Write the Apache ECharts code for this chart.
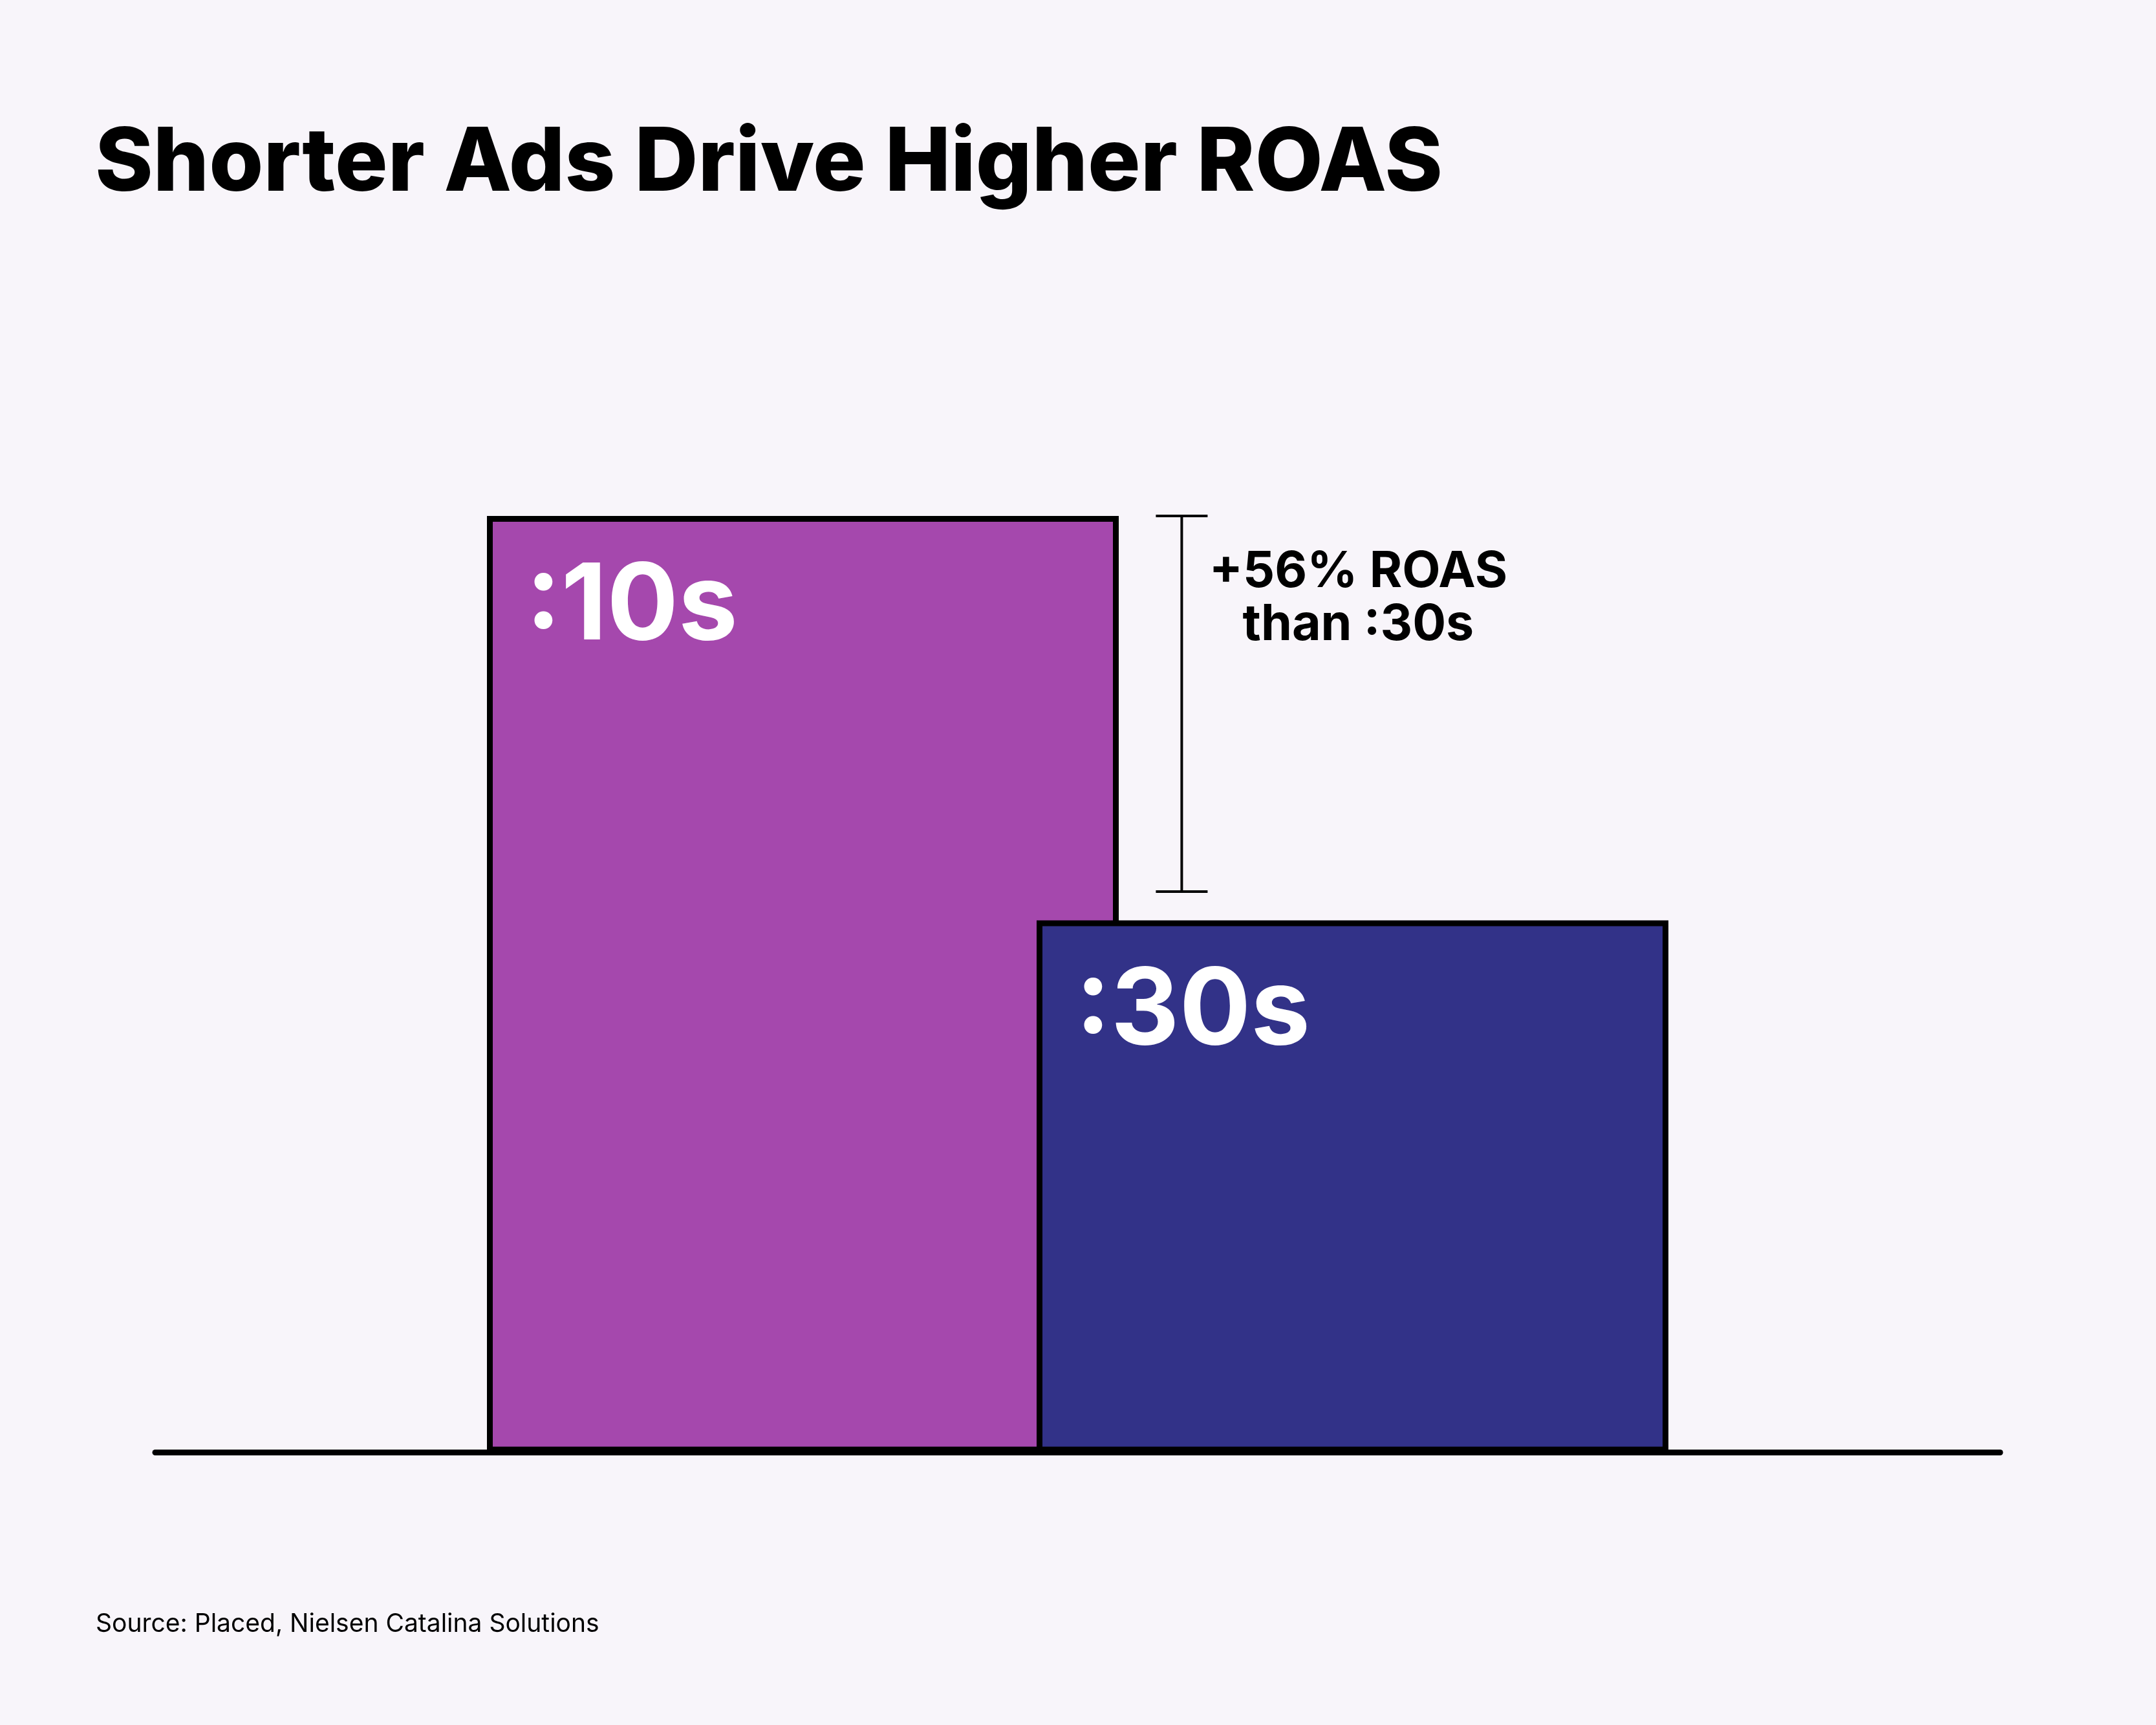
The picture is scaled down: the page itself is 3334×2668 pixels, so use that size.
<!DOCTYPE html>
<html>
<head>
<meta charset="utf-8">
<script src="https://cdn.jsdelivr.net/npm/echarts@6/dist/echarts.min.js"></script>
<style>
html,body{margin:0;padding:0;background:#F8F5FA;}
#chart{width:3334px;height:2668px;}
</style>
</head>
<body>
<div id="chart"></div>
<script>
// ---- data ----
const titleText = 'Shorter Ads Drive Higher ROAS';
const sourceText = 'Source: Placed, Nielsen Catalina Solutions';
const categories = ['ROAS'];
const seriesNames = [':10s', ':30s'];
const values10s = [176];
const values30s = [100];
const bracketX = [55.64];          // position on hidden 0–100 annotation axis
const bracketTop = [176];
const bracketBottom = [105.4];
const annotationText = '+56% ROAS\nthan :30s';

const FONT = 'Inter, "Noto Sans", sans-serif';
const chart = echarts.init(document.getElementById('chart'), null, {renderer: 'canvas'});

const barLabel = {
  show: true,
  position: [60, 60],
  formatter: '{a}',
  color: '#ffffff',
  fontFamily: FONT,
  fontWeight: 'bold',
  fontSize: 164,
  lineHeight: 164
};

chart.setOption({
  backgroundColor: '#F8F5FA',
  animation: false,
  title: [
    {
      text: titleText,
      left: 142, top: 181,
      textStyle: {fontFamily: FONT, fontWeight: 800, fontSize: 136, color: '#000'}
    },
    {
      text: sourceText,
      left: 143, top: 2488,
      textStyle: {fontFamily: FONT, fontWeight: 'normal', fontSize: 39, color: '#000'}
    }
  ],
  grid: {left: 240, right: 241, top: 600.5, bottom: 421.5},
  xAxis: [
    {
      type: 'category', data: categories,
      axisLine: {show: true, lineStyle: {color: '#000', width: 9}},
      axisTick: {show: false}, axisLabel: {show: false}, splitLine: {show: false}
    },
    {
      type: 'value', min: 0, max: 100, show: false
    }
  ],
  yAxis: {
    type: 'value', min: 0, max: 200, show: false, splitLine: {show: false}
  },
  series: [
    {
      name: seriesNames[0], type: 'bar', data: values10s,
      barWidth: 977, barGap: '-13%',
      itemStyle: {color: '#A548AD', borderColor: '#000', borderWidth: 9},
      label: barLabel, z: 2
    },
    {
      name: seriesNames[1], type: 'bar', data: values30s,
      barWidth: 977, barGap: '-13%',
      itemStyle: {color: '#323288', borderColor: '#000', borderWidth: 9},
      label: barLabel, z: 3
    },
    {
      type: 'custom', xAxisIndex: 1, yAxisIndex: 0, z: 5,
      data: bracketX.map((x, i) => [x, bracketTop[i], bracketBottom[i]]),
      encode: {x: 0, y: [1, 2]},
      renderItem: function (params, api) {
        const top = api.coord([api.value(0), api.value(1)]);
        const bot = api.coord([api.value(0), api.value(2)]);
        const x = top[0];
        const half = 40;
        const ls = {stroke: '#000', lineWidth: 4};
        return {
          type: 'group',
          children: [
            {type: 'line', shape: {x1: x, y1: top[1], x2: x, y2: bot[1]}, style: ls},
            {type: 'line', shape: {x1: x - half, y1: top[1], x2: x + half, y2: top[1]}, style: ls},
            {type: 'line', shape: {x1: x - half, y1: bot[1], x2: x + half, y2: bot[1]}, style: ls},
            {
              type: 'text',
              x: x + 273, y: top[1] + 46,
              style: {
                text: annotationText, fill: '#000',
                font: 'bold 77px ' + FONT, lineHeight: 82,
                align: 'center', verticalAlign: 'top'
              }
            }
          ]
        };
      }
    }
  ]
});
</script>
</body>
</html>
